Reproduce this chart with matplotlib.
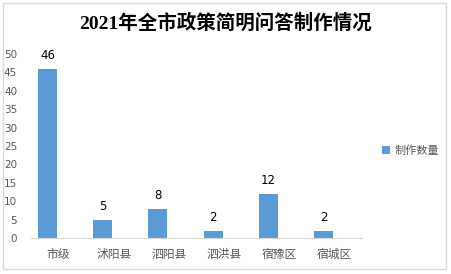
import matplotlib
matplotlib.use("Agg")
import matplotlib.pyplot as plt
from matplotlib.patches import Rectangle

plt.rcParams['font.family'] = ['Noto Sans CJK SC', 'DejaVu Sans']

title = "2021年全市政策简明问答制作情况"
categories = ["市级", "沭阳县", "泗阳县", "泗洪县", "宿豫区", "宿城区"]
values = [46, 5, 8, 2, 12, 2]
series_name = "制作数量"
yticks = list(range(0, 55, 5))

bar_color = "#5B9BD5"
tick_color = "#595959"

fig = plt.figure(figsize=(4.51, 2.74), dpi=100)
fig.patch.set_facecolor("white")
fig.patches.append(Rectangle((0.006, 0.02), 0.984, 0.968, transform=fig.transFigure,
                             fill=False, edgecolor="#D9D9D9", linewidth=1.0))

ax = fig.add_axes([0.0687, 0.1314, 0.734, 0.6715])
x = list(range(len(categories)))
bars = ax.bar(x, values, width=0.345, color=bar_color, label=series_name)
for xi, v in zip(x, values):
    ax.text(xi, v + 1.8, str(v), ha="center", va="bottom", fontsize=8.5,
            family=["DejaVu Sans"], color="black")

# category slots are centred 0.2 to the right of the bars (excel style gap)
ax.set_xlim(-0.3, 5.7)
ax.set_ylim(0, 50)
ax.set_yticks(yticks)
ax.set_xticks([xi + 0.2 for xi in x])
ax.set_xticklabels(categories, fontsize=8.5, color=tick_color)
ax.tick_params(axis="y", labelsize=7.5, colors=tick_color, length=0, pad=10)
ax.tick_params(axis="x", length=0, pad=7)
for lab in ax.get_yticklabels():
    lab.set_family(["DejaVu Sans"])
for s in ["top", "right", "left"]:
    ax.spines[s].set_visible(False)
ax.spines["bottom"].set_color("#D9D9D9")

fig.text(0.5, 0.915, title, ha="center", va="center", fontsize=14, fontweight="bold",
         family=["Liberation Serif", "Noto Sans CJK SC"])

fig.legend(handles=[bars], labels=[series_name], loc="center left",
           bbox_to_anchor=(0.825, 0.45), frameon=False, fontsize=8,
           handlelength=0.7, handleheight=0.7, handletextpad=0.4,
           labelcolor=tick_color)

fig.savefig("out.png", dpi=100)
